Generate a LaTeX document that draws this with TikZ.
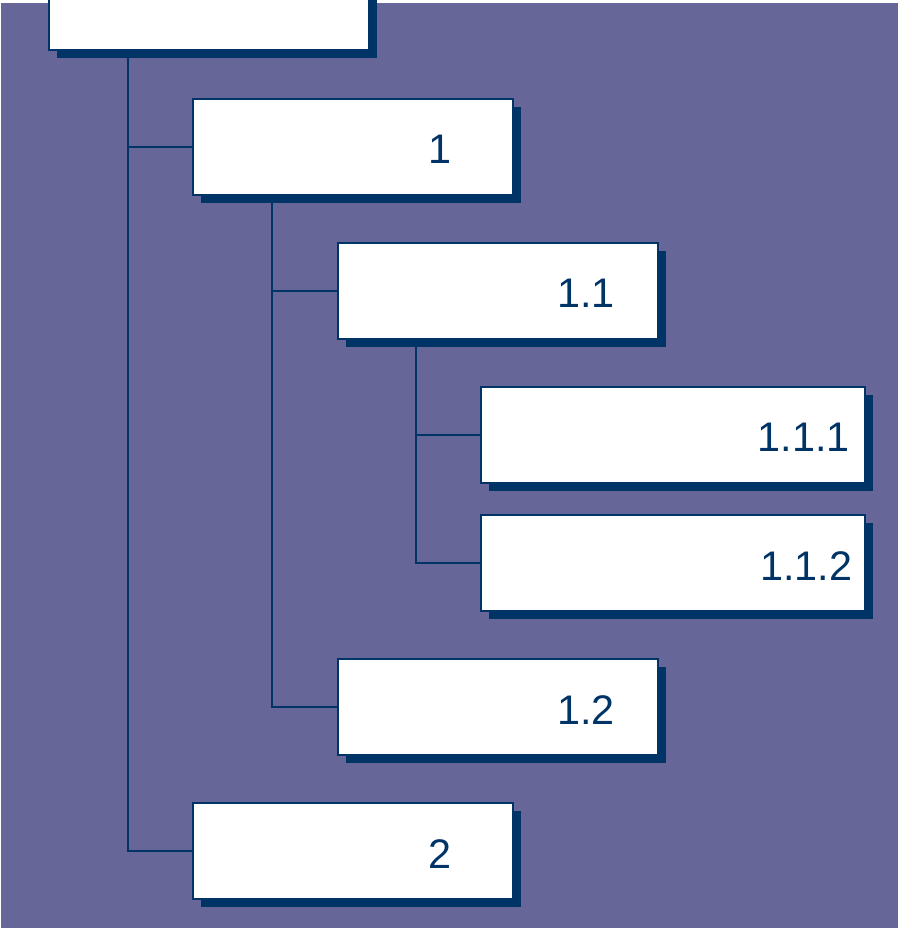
\documentclass[tikz,border=0pt]{standalone}
\usepackage{fontspec}
\setmainfont{Liberation Sans}
\usetikzlibrary{shadows}

\definecolor{bgpurple}{HTML}{666699}
\definecolor{navy}{HTML}{003366}

\begin{document}
\begin{tikzpicture}[x=0.75pt,y=-0.75pt,
    box/.style={draw=navy, line width=1pt, fill=white, inner sep=0pt,
      minimum width=240pt, minimum height=72pt,
      drop shadow={shadow xshift=6pt, shadow yshift=-6pt, fill=navy, opacity=1}},
    widebox/.style={box, minimum width=288pt},
    num/.style={text=navy, font=\fontsize{31}{37}\selectfont},
    link/.style={draw=navy, line width=1.3pt}]

      % Page frame and background
      \useasboundingbox (0,0) rectangle (900,930);
      \fill[bgpurple] (1,3) rectangle (898,928);

      % Root box (cut at the top)
      \node[box] (root) at (209,2) {};

      % First level
      \node[box, label={[num, xshift=65pt, yshift=-2pt]center:1}] (box1) at (353,147) {};
      \node[box, label={[num, xshift=65pt, yshift=-2pt]center:2}] (box2) at (353,851) {};

      % Second level
      \node[box, label={[num, xshift=66pt, yshift=-2pt]center:1.1}] (box11) at (498,291) {};
      \node[box, label={[num, xshift=66pt, yshift=-2pt]center:1.2}] (box12) at (498,707) {};

      % Third level
      \node[widebox, label={[num, xshift=98pt, yshift=-2pt]center:1.1.1}] (box111) at (673,435) {};
      \node[widebox, label={[num, xshift=100pt, yshift=-2pt]center:1.1.2}] (box112) at (673,563) {};

      % Tree lines
      \draw[link] (box1.west) -| ([xshift=60pt]root.south west);
      \draw[link] (box2.west) -| ([xshift=60pt]root.south west);
      \draw[link] (box11.west) -| ([xshift=60pt]box1.south west);
      \draw[link] (box12.west) -| ([xshift=60pt]box1.south west);
      \draw[link] (box111.west) -| ([xshift=59pt]box11.south west);
      \draw[link] (box112.west) -| ([xshift=59pt]box11.south west);

\end{tikzpicture}
\end{document}
